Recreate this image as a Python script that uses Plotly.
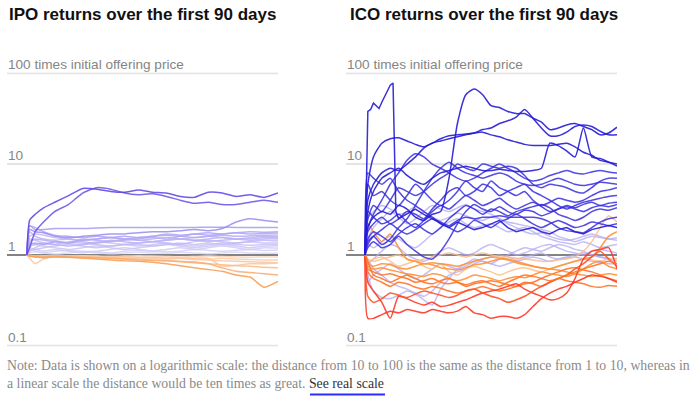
import math
import plotly.graph_objects as go

W, H = 696, 397

# ---------------- IPO data (multiple of offering price) ----------------
ipo_days = [0, 1, 3, 6, 10, 15, 20, 25, 30, 35, 40, 45, 50, 55, 60, 65, 70, 75, 80, 85, 90]

ipo_01 = [1, 2.4, 2.8, 3.3, 3.8, 4.5, 5.4, 5.3, 5.0, 4.9, 5.2, 4.9, 4.8, 4.4, 4.3, 4.9, 4.8, 4.4, 4.6, 4.3, 4.8]
ipo_02 = [1, 1.2, 1.8, 2.3, 3.0, 3.6, 4.8, 5.5, 5.3, 4.8, 4.6, 4.7, 4.4, 4.0, 3.7, 3.8, 3.6, 3.6, 3.8, 4.0, 3.8]
ipo_03 = [1, 1.9, 1.8, 1.75, 1.6, 1.55, 1.6, 1.65, 1.7, 1.7, 1.75, 1.8, 1.8, 1.85, 1.9, 1.85, 1.95, 2.3, 2.5, 2.4, 2.3]
ipo_04 = [1, 2.1, 1.9, 1.9, 1.95, 1.95, 1.95, 1.98, 2.0, 2.0, 2.0, 2.0, 2.0, 2.0, 2.0, 2.02, 2.02, 2.0, 2.0, 2.0, 2.0]
ipo_05 = [1, 2.1, 2.0, 1.8, 1.65, 1.6, 1.55, 1.6, 1.55, 1.5, 1.55, 1.6, 1.65, 1.6, 1.7, 1.65, 1.7, 1.75, 1.7, 1.72, 1.74]
ipo_06 = [1, 1.4, 1.5, 1.45, 1.4, 1.35, 1.5, 1.45, 1.4, 1.45, 1.5, 1.55, 1.5, 1.6, 1.55, 1.6, 1.65, 1.6, 1.62, 1.65, 1.66]
ipo_07 = [1, 1.8, 1.6, 1.5, 1.45, 1.5, 1.4, 1.35, 1.4, 1.5, 1.45, 1.5, 1.55, 1.5, 1.45, 1.5, 1.55, 1.5, 1.55, 1.6, 1.58]
ipo_08 = [1, 1.25, 1.3, 1.35, 1.3, 1.25, 1.3, 1.35, 1.45, 1.4, 1.35, 1.4, 1.45, 1.5, 1.45, 1.4, 1.45, 1.5, 1.5, 1.55, 1.54]
ipo_09 = [1, 1.5, 1.45, 1.35, 1.3, 1.4, 1.35, 1.3, 1.25, 1.3, 1.35, 1.4, 1.35, 1.3, 1.4, 1.45, 1.4, 1.35, 1.4, 1.45, 1.42]
ipo_10 = [1, 1.2, 1.15, 1.2, 1.25, 1.3, 1.25, 1.2, 1.25, 1.3, 1.3, 1.25, 1.3, 1.35, 1.3, 1.35, 1.3, 1.35, 1.4, 1.35, 1.35]
ipo_11 = [1, 1.35, 1.3, 1.25, 1.2, 1.15, 1.2, 1.25, 1.2, 1.15, 1.2, 1.25, 1.3, 1.25, 1.2, 1.25, 1.3, 1.25, 1.2, 1.25, 1.26]
ipo_12 = [1, 1.1, 1.15, 1.1, 1.15, 1.1, 1.05, 1.1, 1.15, 1.2, 1.15, 1.1, 1.15, 1.2, 1.15, 1.2, 1.25, 1.2, 1.15, 1.2, 1.19]
ipo_13 = [1, 1.15, 1.1, 1.05, 1.1, 1.12, 1.1, 1.08, 1.05, 1.1, 1.12, 1.1, 1.08, 1.1, 1.15, 1.12, 1.1, 1.12, 1.15, 1.12, 1.13]
ipo_14 = [1, 1.05, 1.08, 1.05, 1.02, 1.05, 1.08, 1.05, 1.03, 1.05, 1.07, 1.05, 1.04, 1.06, 1.05, 1.03, 1.05, 1.07, 1.05, 1.04, 1.05]
ipo_15 = [1, 1.3, 1.35, 1.3, 1.4, 1.35, 1.45, 1.5, 1.55, 1.6, 1.55, 1.6, 1.7, 1.65, 1.7, 1.75, 1.7, 1.75, 1.8, 1.78, 1.8]
ipo_16 = [1, 1.6, 1.7, 1.65, 1.55, 1.5, 1.45, 1.5, 1.55, 1.5, 1.45, 1.4, 1.45, 1.5, 1.55, 1.6, 1.55, 1.5, 1.45, 1.5, 1.5]
ipo_17 = [1, 1.1, 1.2, 1.3, 1.4, 1.35, 1.3, 1.4, 1.35, 1.3, 1.25, 1.3, 1.35, 1.3, 1.25, 1.3, 1.35, 1.3, 1.28, 1.3, 1.3]
ipo_18 = [1, 0.98, 0.97, 0.98, 0.97, 0.96, 0.98, 0.97, 0.96, 0.97, 0.98, 0.97, 0.96, 0.95, 0.96, 0.97, 0.96, 0.95, 0.94, 0.95, 0.95]
ipo_19 = [1, 0.97, 0.95, 0.97, 0.98, 0.96, 0.95, 0.96, 0.94, 0.95, 0.93, 0.94, 0.92, 0.93, 0.91, 0.9, 0.92, 0.9, 0.89, 0.88, 0.88]
ipo_20 = [1, 0.92, 0.8, 0.9, 0.96, 0.97, 0.95, 0.94, 0.93, 0.92, 0.93, 0.92, 0.9, 0.91, 0.89, 0.88, 0.86, 0.85, 0.84, 0.83, 0.82]
ipo_21 = [1, 0.97, 0.96, 0.95, 0.96, 0.95, 0.94, 0.93, 0.92, 0.9, 0.9, 0.88, 0.86, 0.85, 0.84, 0.8, 0.78, 0.76, 0.75, 0.73, 0.72]
ipo_22 = [1, 0.98, 0.97, 0.96, 0.97, 0.95, 0.94, 0.93, 0.92, 0.9, 0.88, 0.87, 0.86, 0.84, 0.82, 0.8, 0.72, 0.66, 0.64, 0.62, 0.6]
ipo_23 = [1, 0.97, 0.95, 0.93, 0.95, 0.94, 0.92, 0.9, 0.88, 0.86, 0.85, 0.83, 0.8, 0.76, 0.72, 0.69, 0.66, 0.6, 0.57, 0.44, 0.51]
ipo_24 = [1, 0.99, 0.98, 0.97, 0.96, 0.97, 0.98, 0.96, 0.95, 0.96, 0.94, 0.93, 0.92, 0.93, 0.92, 0.92, 0.75, 0.77, 0.8, 0.8, 0.82]

# ---------------- ICO data ----------------
ico_days = [0, 1, 3, 6, 9, 12, 15, 18, 21, 24, 27, 30, 33, 36, 39, 42,
            45, 48, 51, 54, 57, 60, 63, 66, 69, 72, 75, 78, 81, 84, 87, 90]
ico_spike_days = [0, 1, 2, 3, 4, 5, 6, 7, 8, 9, 10, 11, 12, 15, 18, 21, 24, 27, 30,
                  33, 36, 39, 42, 45, 48, 51, 54, 57, 60, 63, 66, 69, 72, 75, 78, 81, 84, 87, 90]

ico_spike = [1, 38, 40, 47, 44, 41, 48, 56, 66, 74, 78, 3.0, 2.5,
             2.8, 3.2, 2.8, 2.5, 2.2, 2.0, 2.3, 2.1, 1.9, 2.0, 2.2, 2.4, 2.0, 1.8, 1.9, 2.0,
             1.8, 1.7, 1.9, 2.0, 1.8, 1.7, 1.9, 2.0, 2.1, 2.0]
ico_01 = [1, 2.0, 2.6, 3.0, 2.8, 3.5, 3.2, 2.6, 2.4, 2.8, 3.0, 7, 28, 58, 67, 58,
          44, 42, 38, 36, 36, 32, 29, 24, 25, 27, 28, 26, 24, 21, 22, 25.5]
ico_02 = [1, 4, 6, 8, 9, 8.5, 10, 12, 15, 17, 18, 19, 20, 21, 22, 24,
          25, 28, 30, 33, 40, 32, 25, 20.5, 20.5, 22.5, 26, 27, 26, 23, 21, 21]
ico_03 = [1, 6, 12, 17, 19, 19.5, 18, 16.5, 15.5, 17, 19, 20.5, 21, 21.5, 22, 22.5,
          21, 20, 18.5, 17.5, 16.5, 16, 16, 16, 16.5, 17, 15.5, 13.5, 12.5, 11, 10.5, 10]
ico_04 = [1, 3, 5, 7, 8, 9, 7.5, 6.5, 6, 7, 8, 8.5, 9, 9.5, 9, 8.5,
          8.5, 8.8, 8.5, 8.3, 8.3, 8.5, 9, 17, 16, 14, 12, 25, 12, 11.5, 10.5, 9.5]
ico_05 = [1, 2.5, 3.5, 3, 4, 5.5, 5, 4.5, 5, 6, 7, 8, 10, 9, 8.5, 10,
          9.5, 9, 9.5, 9, 7.5, 6, 5.5, 6, 5.8, 5.5, 5, 4.8, 5.5, 6.5, 7, 7]
ico_06 = [1, 6, 4.5, 5, 4, 3.5, 4.5, 6, 5, 4, 3.5, 4, 5, 6.5, 5.5, 5,
          6.5, 5.5, 5, 4.5, 5, 4, 3.5, 3.8, 4.2, 4, 3.8, 4, 4.5, 5, 5.2, 5.5]
ico_07 = [1, 1.8, 2.2, 2.6, 2.2, 2.5, 3, 2.8, 2.5, 3.2, 4, 5, 5.5, 4.5, 5, 6,
          5.5, 4.5, 5, 5.5, 6, 5, 4.5, 4, 3.5, 3.2, 3.5, 3.8, 4, 4.2, 4.4, 4.5]
ico_08 = [1, 3, 2.6, 2.2, 2.4, 2.8, 2.3, 2.0, 2.4, 3.0, 3.5, 3.2, 3.8, 4.5, 4, 3.5,
          3.8, 4.2, 3.6, 3.2, 3.5, 3.8, 3.4, 3.0, 3.2, 3.5, 3.3, 3.6, 3.8, 3.5, 3.7, 3.8]
ico_09 = [1, 1.5, 1.8, 1.6, 1.4, 1.7, 2.0, 2.2, 1.9, 1.7, 2.0, 2.5, 3.0, 3.5, 3.2, 2.8,
          3.2, 3.0, 2.7, 3.0, 3.2, 3.4, 3.6, 3.3, 2.8, 2.6, 2.4, 2.6, 3.0, 3.2, 3.1, 3.3]
ico_10 = [1, 1.3, 1.6, 1.9, 2.2, 1.9, 1.7, 1.9, 2.2, 2.5, 2.3, 2.1, 2.4, 2.6, 2.5, 2.6,
          2.6, 2.7, 2.6, 2.6, 2.6, 2.6, 2.5, 2.3, 2.0, 1.85, 1.8, 1.75, 2.0, 2.3, 2.5, 2.6]
ico_11 = [1, 8, 7, 6, 7, 5, 4, 3.5, 3, 2.6, 2.2, 2.0, 1.8, 2.0, 2.4, 2.2,
          2.0, 2.3, 2.5, 2.8, 2.5, 2.2, 2.0, 2.2, 2.4, 2.2, 2.0, 2.1, 2.3, 2.2, 2.1, 2.2]
ico_12 = [1, 1.4, 1.6, 1.3, 1.5, 2, 2.5, 3.5, 5, 7, 9, 10.5, 9, 8, 7.5, 7,
          7.5, 8, 7.5, 6.5, 6, 5.8, 6, 6.5, 7, 6.5, 6, 5.8, 6, 6.3, 6.2, 6]
ico_13 = [1, 1.2, 1.4, 1.2, 1.3, 1.6, 1.3, 1.1, 0.95, 0.9, 1.1, 1.5, 2.2, 3.0, 3.6, 3.2,
          3.0, 3.4, 3.0, 2.8, 3.1, 3.0, 2.7, 2.9, 3.2, 3.4, 3.2, 3.0, 3.3, 3.5, 3.4, 3.6]
ico_14 = [1, 2, 2.8, 4, 6, 8, 11, 13, 12, 10, 9, 8, 7, 6.5, 7, 8,
          9, 10, 9, 8, 7, 6.5, 6.8, 7.5, 8, 8.5, 8, 7.8, 8.2, 8.5, 8.2, 8]
ico_15 = [1, 0.6, 0.4, 0.34, 0.33, 0.36, 0.4, 0.37, 0.32, 0.28, 0.42, 0.55, 0.7, 0.8, 0.9, 0.85,
          0.8, 0.9, 1.0, 1.1, 1.2, 1.15, 1.1, 1.2, 1.3, 1.25, 1.15, 1.1, 1.0, 0.95, 0.9, 0.85]
ico_16 = [1, 1.5, 2.0, 2.5, 3.0, 2.6, 2.2, 2.5, 3.0, 3.5, 3.2, 3.0, 3.3, 3.6, 3.2, 3.0,
          2.8, 2.5, 2.3, 2.2, 2.1, 2.0, 1.9, 1.8, 1.6, 1.5, 1.4, 1.5, 1.6, 1.55, 1.5, 1.45]
ico_17 = [1, 1.3, 1.2, 1.4, 1.6, 1.5, 1.3, 1.2, 1.4, 1.7, 2.0, 2.3, 2.5, 2.2, 2.0, 2.1,
          2.2, 2.0, 1.8, 1.9, 2.0, 1.8, 1.6, 1.5, 1.4, 1.35, 1.3, 1.4, 1.3, 1.2, 1.25, 1.3]
ico_18 = [1, 0.8, 0.9, 1.1, 1.3, 1.2, 1.0, 0.9, 0.85, 0.95, 1.1, 1.2, 1.1, 1.0, 1.05, 1.2,
          1.3, 1.2, 1.1, 1.0, 1.05, 1.15, 1.25, 1.3, 1.2, 1.1, 1.05, 1.0, 1.1, 1.15, 1.1, 1.05]
ico_19 = [1, 0.5, 0.6, 0.7, 0.8, 0.7, 0.6, 0.55, 0.6, 0.7, 0.8, 0.75, 0.7, 0.75, 0.85, 0.9,
          0.95, 1.0, 0.95, 0.9, 0.95, 1.0, 1.05, 0.95, 0.9, 0.92, 0.95, 0.9, 0.85, 0.82, 0.8, 0.8]
ico_20 = [1, 2.5, 3.0, 3.5, 3.2, 2.8, 3.0, 3.4, 3.0, 2.6, 2.4, 2.6, 2.9, 2.7, 2.5, 2.4,
          2.6, 2.5, 2.2, 2.0, 1.8, 1.7, 1.75, 1.6, 1.5, 1.45, 1.5, 1.6, 1.7, 1.6, 1.5, 1.55]
ico_21 = [1, 0.9, 0.7, 0.6, 0.5, 0.45, 0.42, 0.38, 0.35, 0.4, 0.5, 0.6, 0.65, 0.7, 0.8, 0.85,
          0.8, 0.75, 0.8, 0.85, 0.9, 0.95, 0.9, 0.85, 0.9, 0.95, 1.0, 1.05, 1.0, 0.95, 0.92, 0.9]
ico_22 = [1, 0.9, 0.85, 0.9, 0.95, 1.0, 0.9, 0.85, 0.9, 0.95, 1.0, 1.05, 1.0, 0.95, 1.0, 1.05,
          1.0, 0.95, 0.95, 0.92, 0.9, 0.88, 0.85, 0.85, 0.88, 0.9, 0.95, 1.1, 1.4, 2.0, 2.7, 2.3]
ico_23 = [1, 0.85, 0.9, 0.95, 0.85, 0.75, 0.8, 0.85, 0.75, 0.7, 0.8, 0.65, 0.6, 0.7, 0.75, 0.7,
          0.65, 0.6, 0.65, 0.7, 0.72, 0.68, 0.65, 0.7, 0.75, 0.8, 0.85, 0.9, 0.88, 0.85, 0.9, 0.92]
ico_24 = [1, 2.2, 1.8, 1.4, 1.7, 1.2, 0.9, 0.85, 0.8, 0.82, 0.8, 0.78, 0.75, 0.8, 0.85, 0.9,
          0.95, 0.92, 0.9, 0.85, 0.8, 0.75, 0.72, 0.7, 0.75, 0.8, 0.85, 0.9, 0.95, 1.2, 1.6, 1.8]
ico_25 = [1, 0.8, 0.75, 0.8, 0.78, 0.72, 0.7, 0.75, 0.8, 0.78, 0.72, 0.7, 0.68, 0.72, 0.78, 0.8,
          0.85, 0.9, 0.88, 0.82, 0.78, 0.75, 0.72, 0.7, 0.68, 0.65, 0.62, 0.6, 0.58, 0.6, 0.62, 0.6]
ico_26 = [1, 0.7, 0.65, 0.6, 0.62, 0.58, 0.55, 0.5, 0.52, 0.55, 0.5, 0.48, 0.5, 0.45, 0.48, 0.5,
          0.52, 0.5, 0.47, 0.45, 0.48, 0.5, 0.55, 0.6, 0.65, 0.7, 0.72, 0.68, 0.65, 0.6, 0.55, 0.52]
ico_27 = [1, 0.75, 0.7, 0.72, 0.68, 0.65, 0.62, 0.6, 0.58, 0.62, 0.6, 0.55, 0.52, 0.55, 0.6, 0.58,
          0.55, 0.52, 0.55, 0.58, 0.56, 0.6, 0.65, 0.62, 0.6, 0.58, 0.62, 0.7, 0.8, 0.85, 0.75, 0.7]
ico_28 = [1, 0.65, 0.55, 0.5, 0.45, 0.5, 0.48, 0.44, 0.42, 0.45, 0.43, 0.4, 0.38, 0.4, 0.42, 0.45,
          0.42, 0.4, 0.42, 0.45, 0.5, 0.48, 0.45, 0.5, 0.55, 0.52, 0.5, 0.48, 0.45, 0.44, 0.46, 0.45]
ico_29 = [1, 0.2, 0.2, 0.22, 0.24, 0.23, 0.25, 0.24, 0.23, 0.25, 0.24, 0.23, 0.24, 0.27, 0.23, 0.22,
          0.2, 0.21, 0.21, 0.2, 0.22, 0.27, 0.33, 0.38, 0.42, 0.45, 0.5, 0.55, 0.6, 0.58, 0.55, 0.5]
ico_30 = [1, 0.5, 0.4, 0.3, 0.2, 0.35, 0.33, 0.3, 0.28, 0.3, 0.27, 0.28, 0.3, 0.32, 0.35, 0.38,
          0.4, 0.42, 0.45, 0.48, 0.42, 0.38, 0.35, 0.32, 0.33, 0.38, 0.55, 0.9, 1.1, 1.15, 1.2, 0.7]
ico_31 = [1, 0.35, 0.3, 0.33, 0.38, 0.36, 0.34, 0.37, 0.4, 0.38, 0.36, 0.34, 0.36, 0.4, 0.42, 0.38,
          0.35, 0.33, 0.3, 0.32, 0.35, 0.4, 0.45, 0.5, 0.55, 0.6, 0.7, 0.8, 0.95, 1.1, 0.9, 0.75]
ico_32 = [1, 0.85, 0.6, 0.55, 0.5, 0.55, 0.6, 0.55, 0.5, 0.48, 0.52, 0.55, 0.5, 0.47, 0.5, 0.52,
          0.48, 0.45, 0.5, 0.55, 0.6, 0.58, 0.55, 0.52, 0.55, 0.6, 0.65, 0.7, 0.75, 0.8, 0.85, 0.8]

grid_vals = [0.1, 10, 100]
tick_vals = [0.1, 1, 10, 100]
tick_text = ["0.1", "1", "10", "100 times initial offering price"]

# ---------------- styling ----------------
LAV = "rgba(178,170,242,0.75)"
LORANGE = "rgba(250,190,140,0.85)"
ORANGE = "rgba(255,145,55,0.9)"
ORANGE2 = "rgba(255,115,40,0.9)"
RED = "rgba(255,55,40,0.9)"
DBLUE = "rgba(38,28,214,0.9)"
BLUE = "rgba(55,45,222,0.85)"

ico_draw = [
    (ico_15, LAV), (ico_16, LAV), (ico_17, LAV), (ico_18, LAV), (ico_19, LAV),
    (ico_20, LAV), (ico_21, LAV),
    (ico_22, LORANGE), (ico_23, LORANGE),
    (ico_24, ORANGE), (ico_25, ORANGE), (ico_26, ORANGE2), (ico_27, ORANGE), (ico_28, ORANGE2),
    (ico_29, RED), (ico_30, RED), (ico_31, "rgba(255,80,35,0.9)"), (ico_32, ORANGE2),
    (ico_09, BLUE), (ico_10, BLUE), (ico_11, BLUE), (ico_13, BLUE), (ico_08, BLUE),
    (ico_07, BLUE), (ico_06, BLUE), (ico_12, BLUE), (ico_14, BLUE), (ico_05, BLUE),
    (ico_04, DBLUE), (ico_03, DBLUE), (ico_02, DBLUE), (ico_01, DBLUE),
]

ipo_series = [ipo_14, ipo_13, ipo_12, ipo_11, ipo_17, ipo_10, ipo_09, ipo_08, ipo_16,
              ipo_07, ipo_06, ipo_05, ipo_15, ipo_04, ipo_03,
              ipo_18, ipo_19, ipo_24, ipo_20, ipo_21, ipo_22, ipo_23, ipo_02, ipo_01]


def mix(c0, c1, t):
    return tuple(round(a + (b - a) * t) for a, b in zip(c0, c1))


def ipo_color(series):
    v = series[-1]
    if v >= 1:
        t = min(math.log10(v) / math.log10(4.3), 1.0)
        if t < 0.5:
            c = mix((222, 218, 249), (162, 150, 242), t / 0.5)
        else:
            c = mix((162, 150, 242), (92, 64, 228), (t - 0.5) / 0.5)
        a = 0.85
    else:
        t = min(-math.log10(v) / math.log10(2.0), 1.0)
        c = mix((250, 218, 195), (247, 158, 85), t)
        a = 0.9
    return "rgba(%d,%d,%d,%.2f)" % (c + (a,))


fig = go.Figure()

for s in ipo_series:
    fig.add_trace(go.Scatter(x=ipo_days, y=s, mode="lines", xaxis="x", yaxis="y",
                             line=dict(color=ipo_color(s), width=1.5, shape="spline", smoothing=0.5),
                             hoverinfo="skip", showlegend=False))

for s, col in ico_draw:
    fig.add_trace(go.Scatter(x=ico_days, y=s, mode="lines", xaxis="x2", yaxis="y2",
                             line=dict(color=col, width=1.5, shape="spline", smoothing=0.6),
                             hoverinfo="skip", showlegend=False))
fig.add_trace(go.Scatter(x=ico_spike_days, y=ico_spike, mode="lines", xaxis="x2", yaxis="y2",
                         line=dict(color=DBLUE, width=1.5), hoverinfo="skip", showlegend=False))

y_dom = [1 - 346.6 / H, 1 - 72.4 / H]
yax = dict(type="log", range=[-1.01, 2.01], domain=y_dom, showgrid=False,
           showticklabels=False, ticks="", showline=False, zeroline=False, fixedrange=True)

fig.update_layout(
    width=W, height=H,
    margin=dict(l=0, r=0, t=0, b=0),
    paper_bgcolor="white", plot_bgcolor="white",
    xaxis=dict(domain=[7 / W, 278 / W], range=[-7.1, 90], visible=False, fixedrange=True),
    xaxis2=dict(domain=[346 / W, 617 / W], range=[-6.8, 90], visible=False, anchor="y2", fixedrange=True),
    yaxis=dict(**yax),
    yaxis2=dict(**yax, anchor="x2"),
)

for xr, yr in (("x", "y"), ("x2", "y2")):
    for g in grid_vals:
        fig.add_shape(type="line", xref=xr + " domain", yref=yr, x0=0, x1=1, y0=g, y1=g,
                      line=dict(color="#e4e4e4", width=2), layer="below")
    fig.add_shape(type="line", xref=xr + " domain", yref=yr, x0=0, x1=1, y0=1, y1=1,
                  line=dict(color="#5a5a5a", width=1.5), layer="below")
    for v, t in zip(tick_vals, tick_text):
        fig.add_annotation(xref=xr + " domain", yref=yr, x=0, y=math.log10(v),
                           text=t, showarrow=False, xanchor="left", yanchor="bottom",
                           yshift=-1, xshift=-1,
                           font=dict(family="Liberation Sans, Arial", size=13.6, color="#858585"))

titles = [("IPO returns over the first 90 days", 7), ("ICO returns over the first 90 days", 348)]
for t, px in titles:
    fig.add_annotation(xref="paper", yref="paper", x=px / W, y=1 - 3 / H, text="<b>" + t + "</b>",
                       showarrow=False, xanchor="left", yanchor="top",
                       font=dict(family="Liberation Sans, Arial", size=17, color="#111111"))

note = ("Note: Data is shown on a logarithmic scale: the distance from 10 to 100 is the same as the "
        "distance from 1 to 10, whereas in<br>a linear scale the distance would be ten times as great. "
        "<span style='color:#333333'>See real scale</span>")
fig.add_annotation(xref="paper", yref="paper", x=5 / W, y=1 - 356 / H, text=note, showarrow=False,
                   xanchor="left", yanchor="top", align="left",
                   font=dict(family="Liberation Serif, serif", size=13.8, color="#8a8a8a"))
fig.add_shape(type="line", xref="paper", yref="paper", x0=310 / W, x1=385 / W,
              y0=1 - 394.5 / H, y1=1 - 394.5 / H, line=dict(color="#2d2dff", width=2))

fig.write_html("out.html", config={"displayModeBar": False},
               post_script="document.body.style.margin='0';document.body.style.padding='0';")
